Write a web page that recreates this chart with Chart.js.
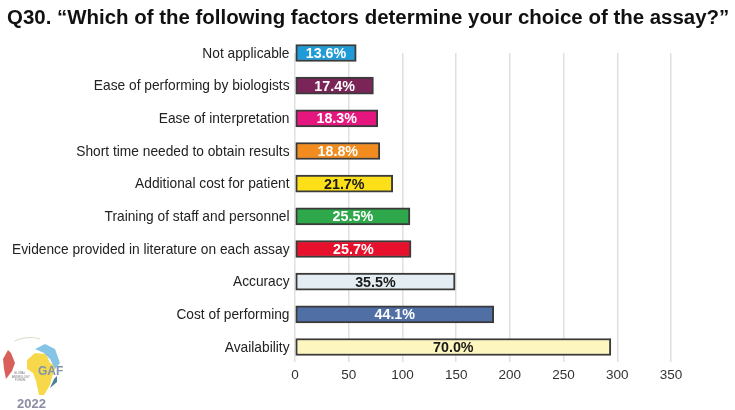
<!DOCTYPE html>
<html>
<head>
<meta charset="utf-8">
<title>Q30</title>
<script src="https://cdn.jsdelivr.net/npm/chart.js@4"></script>
<style>
    html, body { margin: 0; padding: 0; background: #fff; }
    #wrap { position: relative; width: 735px; height: 410px; overflow: hidden; }
    #titulo { position: absolute; left: 7px; top: 5px; font: bold 20.45px "Liberation Sans", Arial, sans-serif; color: #111; white-space: nowrap; }
    #grafico { position: absolute; left: 0; top: 0; }
    #logo { position: absolute; left: 0; top: 333px; filter: blur(0.4px); }
    #ano { position: absolute; left: 17px; top: 396px; font: bold 13px "Liberation Sans", Arial, sans-serif; color: #8a8ca3; }
</style>
</head>
<body>
<div id="wrap">
    <canvas id="grafico" width="735" height="410"></canvas>
    <div id="titulo">Q30. “Which of the following factors determine your choice of the assay?”</div>
    <svg id="logo" width="70" height="66" viewBox="0 0 70 66">
        <path d="M8 17 L11 20 L15 30 L12 38 L6 46 L4 36 L3 26 Z" fill="#d9605a"/>
        <path d="M27 27 L35 20 L46 21 L50 30 L56 33 L52 44 L50 52 L44 62 L39 62 L36 48 L33 40 L27 36 Z" fill="#f6d84a"/>
        <path d="M35 16 L45 11 L55 16 L60 30 L55 36 L50 26 L44 20 Z" fill="#86c4e6"/>
        <path d="M54 46 L57 43 L57 49 L50 55 Z" fill="#4a7f9a"/>
        <path d="M15 8 C20 5 32 3 40 6" fill="none" stroke="#d8dcc4" stroke-width="1.2"/>
        <text x="38" y="42" font-family="Liberation Sans" font-weight="bold" font-size="12" fill="#7f93ad">GAF</text>
        <text x="14" y="41" font-family="Liberation Sans" font-size="2.8" fill="#777">GLOBAL</text>
        <text x="12" y="44.5" font-family="Liberation Sans" font-size="2.8" fill="#777">ANDROLOGY</text>
        <text x="15" y="48" font-family="Liberation Sans" font-size="2.8" fill="#777">FORUM</text>
    </svg>
    <div id="ano">2022</div>
</div>
<script>
// --- 1. DADOS ---
const CATEGORIAS = ['Not applicable', 'Ease of performing by biologists', 'Ease of interpretation', 'Short time needed to obtain results', 'Additional cost for patient', 'Training of staff and personnel', 'Evidence provided in literature on each assay', 'Accuracy', 'Cost of performing', 'Availability'];
const VALORES = [57, 73, 77, 79, 91, 107, 108, 149, 185, 294];
const ROTULOS = ['13.6%', '17.4%', '18.3%', '18.8%', '21.7%', '25.5%', '25.7%', '35.5%', '44.1%', '70.0%'];
const CORES = ['#1f9bd7', '#7b2458', '#e5177f', '#f28c1e', '#fde01a', '#2ea84a', '#e8112d', '#e4eef2', '#4f6fa5', '#fdf6bf'];
const CORES_ROTULO = ['#fff', '#fff', '#fff', '#fff', '#1a1a1a', '#fff', '#fff', '#1a1a1a', '#fff', '#1a1a1a'];

// --- 2. ROTULOS DENTRO DAS BARRAS ---
const rotulosBarras = {
    id: 'rotulosBarras',
    afterDatasetsDraw(chart) {
        const ctx = chart.ctx;
        ctx.save();
        ctx.font = 'bold 14.3px "Liberation Sans", Arial, sans-serif';
        ctx.textAlign = 'center';
        ctx.textBaseline = 'middle';
        chart.getDatasetMeta(0).data.forEach((barra, i) => {
            ctx.fillStyle = CORES_ROTULO[i];
            ctx.fillText(ROTULOS[i], (barra.x + barra.base) / 2, barra.y + 1);
        });
        ctx.restore();
    }
};

// --- 3. GRAFICO ---
new Chart(document.getElementById('grafico').getContext('2d'), {
    type: 'bar',
    data: {
        labels: CATEGORIAS,
        datasets: [{
            data: VALORES,
            backgroundColor: CORES,
            borderColor: '#3a3a3a',
            borderWidth: 2,
            borderSkipped: false,
            barThickness: 17,
            clip: false
        }]
    },
    options: {
        indexAxis: 'y',
        responsive: false,
        animation: false,
        // area do grafico vai do centro da primeira barra ao centro da ultima
        layout: { padding: { top: 53, right: 64, bottom: 26, left: 0 } },
        plugins: { legend: { display: false }, title: { display: false }, tooltip: { enabled: false } },
        scales: {
            x: {
                min: 0,
                max: 350,
                afterFit(eixo) { eixo.height = 37; },
                grid: { color: '#e0e0e0', lineWidth: 1.5, drawTicks: true, tickLength: 15 },
                border: { display: false },
                ticks: {
                    stepSize: 50,
                    padding: 5,
                    color: '#333',
                    font: { family: '"Liberation Sans", Arial, sans-serif', size: 13.5 }
                }
            },
            y: {
                offset: false,
                afterFit(eixo) { eixo.width = 295; },
                grid: { display: false, drawTicks: false },
                border: { display: false },
                ticks: {
                    autoSkip: false,
                    padding: 5.5,
                    labelOffset: 1,
                    color: '#222',
                    font: { family: '"Liberation Sans", Arial, sans-serif', size: 13.75 }
                }
            }
        }
    },
    plugins: [rotulosBarras]
});
</script>
</body>
</html>
